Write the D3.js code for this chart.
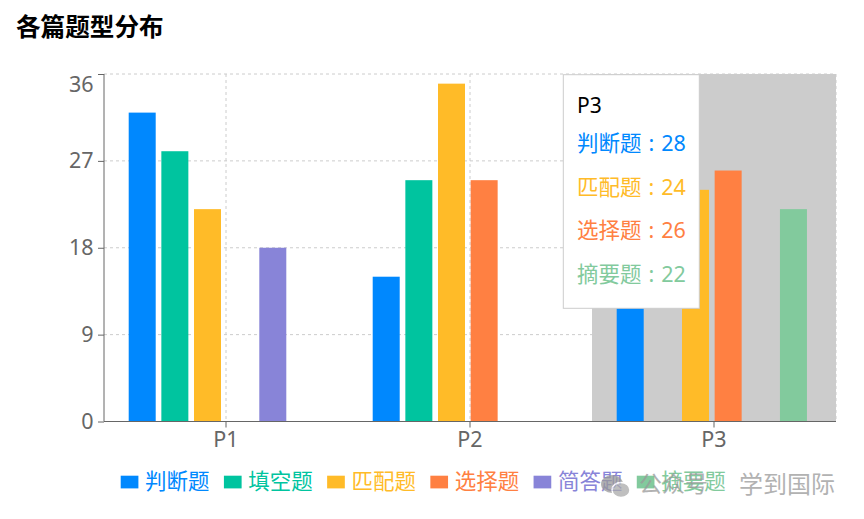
<!DOCTYPE html>
<html>
<head>
<meta charset="utf-8">
<script src="https://cdn.jsdelivr.net/npm/d3@7/dist/d3.min.js"></script>
<style>
  html, body { margin: 0; padding: 0; background: #fff; }
  svg { display: block; font-family: "Noto Sans", "Noto Sans CJK SC", sans-serif; }
</style>
</head>
<body>
<svg id="chart" width="864" height="519"></svg>
<script>
// ---- data ----
const title = "各篇题型分布";
const categories = ["P1", "P2", "P3"];
const seriesNames = ["判断题", "填空题", "匹配题", "选择题", "简答题", "摘要题"];
const seriesColors = ["#0088FE", "#00C49F", "#FFBB28", "#FF8042", "#8884d8", "#82ca9d"];
const judgeValues   = [32, 15, 28];
const fillValues    = [28, 25, 0];
const matchValues   = [22, 35, 24];
const choiceValues  = [0, 25, 26];
const shortValues   = [18, 0, 0];
const summaryValues = [0, 0, 22];
const yTicks = [0, 9, 18, 27, 36];
const activeCategory = "P3";
const watermarkA = "公众号";
const watermarkB = "学到国际";

const seriesValues = [judgeValues, fillValues, matchValues, choiceValues, shortValues, summaryValues];
const series = seriesNames.map((name, i) => ({ name, color: seriesColors[i], values: seriesValues[i] }));

// ---- layout ----
const svg = d3.select("#chart");
const L = 104, R = 836, T = 74, B = 421.5;
const x = d3.scaleBand().domain(categories).range([L, R]).padding(0);
const xInner = d3.scaleBand().domain(seriesNames).range([24.7, 214.95]).paddingInner(0.173).paddingOuter(0);
const y = d3.scaleLinear().domain([0, 36]).range([B, T]);

// title
svg.append("text").attr("x", 16).attr("y", 36)
  .attr("font-size", 24.6).attr("font-weight", "bold").attr("fill", "#000")
  .attr("font-family", "'Noto Sans CJK SC', sans-serif")
  .text(title);

// grid
const grid = svg.append("g").attr("stroke", "#ccc").attr("stroke-dasharray", "3 3").attr("fill", "none");
yTicks.filter(t => t > 0).forEach(t => {
  grid.append("line").attr("x1", L).attr("x2", R).attr("y1", y(t)).attr("y2", y(t));
});
categories.forEach(c => {
  const cx = x(c) + x.bandwidth() / 2;
  grid.append("line").attr("x1", cx).attr("x2", cx).attr("y1", T).attr("y2", B);
});
grid.append("line").attr("x1", R).attr("x2", R).attr("y1", T).attr("y2", B);

// cursor highlight
svg.append("rect")
  .attr("x", x(activeCategory)).attr("y", T)
  .attr("width", x.bandwidth()).attr("height", B - T)
  .attr("fill", "#ccc");

// bars
series.forEach(s => {
  svg.append("g").attr("fill", s.color)
    .selectAll("rect")
    .data(categories.map((c, i) => ({ c, v: s.values[i] })).filter(d => d.v > 0))
    .join("rect")
    .attr("x", d => x(d.c) + xInner(s.name))
    .attr("width", xInner.bandwidth())
    .attr("y", d => y(d.v))
    .attr("height", d => y(0) - y(d.v));
});

// axes
const yAxis = svg.append("g").attr("transform", `translate(${L},0)`)
  .call(d3.axisLeft(y).tickValues(yTicks).tickSize(6).tickPadding(4.5).tickSizeOuter(0));
const xAxis = svg.append("g").attr("transform", `translate(0,${B})`)
  .call(d3.axisBottom(x).tickSize(6).tickPadding(4.5).tickSizeOuter(0));
[yAxis, xAxis].forEach(a => {
  a.select(".domain").attr("stroke", "#666");
  a.selectAll(".tick line").attr("stroke", "#666");
  a.selectAll(".tick text").attr("fill", "#666").attr("font-size", 21.5)
    .attr("font-family", "'Noto Sans', sans-serif");
});
yAxis.select(".domain").attr("d", `M0,${T}V${B}`);
xAxis.select(".domain").attr("d", `M${L},0H${R}`);
// top y label sits just below its tick, as in the reference
yAxis.selectAll(".tick").filter(d => d === d3.max(yTicks)).select("text").attr("dy", "0.8em");

// legend
const legend = svg.append("g").attr("font-size", 21.5).attr("font-family", "'Noto Sans CJK SC', sans-serif");
let lx = 120.7;
series.forEach(s => {
  const g = legend.append("g").attr("transform", `translate(${lx},0)`);
  g.append("rect").attr("x", 0).attr("y", 475.7).attr("width", 17.7).attr("height", 12.7).attr("fill", s.color);
  const t = g.append("text").attr("x", 24.4).attr("y", 481.7).attr("dy", "0.36em")
    .attr("fill", s.color).text(s.name);
  lx += 24.4 + t.node().getComputedTextLength() + 14.3;
});

// tooltip
const tipX = 563.3, tipY = 74.7, tipW = 136, tipH = 233.6;
const tip = svg.append("g");
tip.append("rect").attr("x", tipX).attr("y", tipY).attr("width", tipW).attr("height", tipH)
  .attr("fill", "#fff").attr("stroke", "#ccc").attr("stroke-width", 1);
const ci = categories.indexOf(activeCategory);
tip.append("text").attr("x", 577).attr("y", 105.7).attr("dy", "0.36em")
  .attr("font-size", 21).attr("fill", "#000").attr("font-family", "'Noto Sans', sans-serif")
  .text(activeCategory);
series.filter(s => s.values[ci] > 0).forEach((s, k) => {
  const t = tip.append("text").attr("x", 577).attr("y", 143.3 + k * 43.6).attr("dy", "0.36em")
    .attr("font-size", 21.5).attr("fill", s.color)
    .attr("font-family", "'Noto Sans', 'Noto Sans CJK SC', sans-serif");
  t.append("tspan").text(s.name);
  t.append("tspan").attr("dx", 7).text(":");
  t.append("tspan").attr("dx", 7).text(s.values[ci]);
});

// watermark
const wm = svg.append("g").attr("opacity", 0.75);
wm.append("ellipse").attr("cx", 612).attr("cy", 484).attr("rx", 11).attr("ry", 9).attr("fill", "#999");
wm.append("ellipse").attr("cx", 621).attr("cy", 490).attr("rx", 9).attr("ry", 7.5).attr("fill", "#aaa").attr("stroke", "#fff").attr("stroke-width", 1.5);
wm.append("text").attr("x", 639).attr("y", 484).attr("dy", "0.36em")
  .attr("font-size", 23).attr("fill", "#999").attr("font-family", "'Noto Sans CJK SC', sans-serif")
  .text(watermarkA);
wm.append("text").attr("x", 739).attr("y", 484).attr("dy", "0.36em")
  .attr("font-size", 24).attr("fill", "#999").attr("font-family", "'Noto Sans CJK SC', sans-serif")
  .text(watermarkB);
</script>
</body>
</html>
